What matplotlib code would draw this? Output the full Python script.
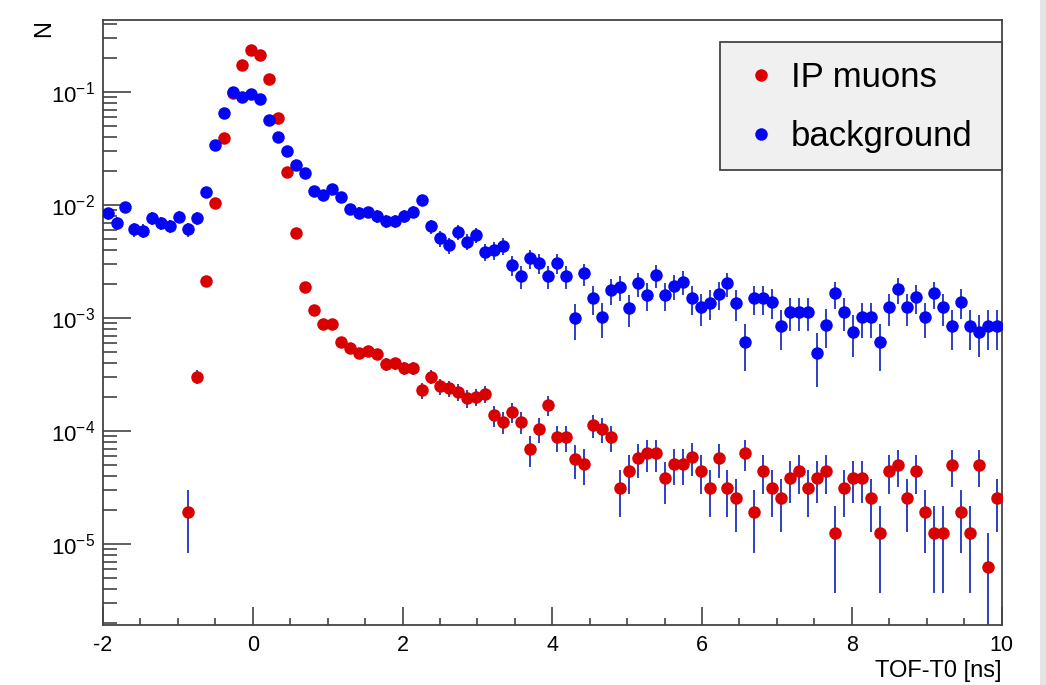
import numpy as np
import matplotlib
matplotlib.use('Agg')
import matplotlib.pyplot as plt
from matplotlib.patches import Rectangle
from matplotlib.ticker import MultipleLocator, LogLocator, NullFormatter

# histogram binning: 100 bins of 0.12 ns between -2 and 10 ns
tof_edges = np.linspace(-2.0, 10.0, 101)
tof_centers = 0.5 * (tof_edges[:-1] + tof_edges[1:])

# normalised entries per bin
ip_muons = [
    np.nan, np.nan, np.nan, np.nan, np.nan, np.nan, np.nan, np.nan, np.nan, 1.93e-5,
    3.03e-4, 2.15e-3, 0.01039, 0.0391, 0.098, 0.1745, 0.237, 0.214, 0.130, 0.0596,
    0.0198, 0.00564, 0.00187, 0.00118, 0.000886, 0.000886, 0.000618, 0.000540, 0.000494, 0.000514,
    0.000481, 0.000392, 0.000398, 0.000359, 0.000359, 0.000231, 0.000304, 0.000249, 0.000239, 0.000223,
    0.000195, 0.000201, 0.000213, 0.000139, 0.000121, 0.000148, 0.000121, 6.89e-5, 0.000104, 0.000170,
    8.85e-5, 8.85e-5, 5.61e-5, 5.10e-5, 0.000113, 0.000104, 8.85e-5, 3.16e-5, 4.43e-5, 5.75e-5,
    6.35e-5, 6.35e-5, 3.81e-5, 5.10e-5, 5.10e-5, 5.92e-5, 4.43e-5, 3.16e-5, 5.75e-5, 3.16e-5,
    2.54e-5, 6.4e-5, 1.93e-5, 4.43e-5, 3.16e-5, 2.54e-5, 3.87e-5, 4.43e-5, 3.16e-5, 3.87e-5,
    4.43e-5, 1.26e-5, 3.16e-5, 3.87e-5, 3.87e-5, 2.54e-5, 1.26e-5, 4.43e-5, 4.97e-5, 2.54e-5,
    4.43e-5, 1.93e-5, 1.26e-5, 1.26e-5, 4.97e-5, 1.93e-5, 1.26e-5, 4.97e-5, 6.3e-6, 2.54e-5,
]
background = [
    0.00848, 0.00700, 0.00970, 0.00612, 0.00594, 0.00766, 0.00691, 0.00658, 0.00791, 0.00615,
    0.00766, 0.01317, 0.0341, 0.0660, 0.100, 0.0914, 0.0960, 0.0867, 0.0568, 0.0399,
    0.0302, 0.0227, 0.01917, 0.01343, 0.01231, 0.01383, 0.01189, 0.00920, 0.00858, 0.00871,
    0.00802, 0.00729, 0.00729, 0.00802, 0.00876, 0.01112, 0.0065, 0.00509, 0.00444, 0.00582,
    0.00475, 0.00545, 0.00387, 0.00401, 0.00435, 0.00295, 0.00236, 0.00339, 0.00306, 0.00236,
    0.00306, 0.00236, 0.000996, 0.00249, 0.00150, 0.00102, 0.00177, 0.00190, 0.00122, 0.00203,
    0.00160, 0.00241, 0.00160, 0.00193, 0.00210, 0.00150, 0.00125, 0.00137, 0.00164, 0.00203,
    0.00136, 0.000614, 0.00150, 0.00150, 0.00140, 0.000851, 0.00114, 0.00114, 0.00114, 0.000494,
    0.000869, 0.00166, 0.00114, 0.000758, 0.00102, 0.00102, 0.000618, 0.00125, 0.00180, 0.00125,
    0.00153, 0.00102, 0.00166, 0.00125, 0.000851, 0.00140, 0.000851, 0.000758, 0.000851, 0.000851,
]
# weight of a single entry (normalisation), for the poisson error bars
ip_muons_weight = 6.3e-6
background_weight = 1.23e-4

plt.rcParams['font.family'] = ['Liberation Sans', 'DejaVu Sans']
plt.rcParams['mathtext.fontset'] = 'custom'
plt.rcParams['mathtext.rm'] = 'Liberation Sans'
plt.rcParams['mathtext.it'] = 'Liberation Sans'
plt.rcParams['axes.unicode_minus'] = False

fig = plt.figure(figsize=(10.46, 6.85), dpi=100)
ax = fig.add_axes([0.0985, 0.0876, 0.8590, 0.8832])

err_color = '#2f40c0'
series = [
    (ip_muons, ip_muons_weight, '#d80000', 'IP muons'),
    (background, background_weight, '#0505f5', 'background'),
]
z = 2
for values, weight, color, label in series:
    vals = np.array(values, dtype=float)
    err = np.sqrt(vals * weight)
    ax.errorbar(tof_centers, vals, yerr=err, fmt='none', ecolor=err_color,
                elinewidth=1.4, capsize=0, zorder=z)
    ax.plot(tof_centers, vals, 'o', color=color, markersize=9, mec=color,
            mew=0, label=label, zorder=z + 1)
    z += 2

ax.set_yscale('log', nonpositive='clip')
ax.set_xlim(-2, 10)
ax.set_ylim(1.92e-6, 0.437)

ax.xaxis.set_major_locator(MultipleLocator(2))
ax.xaxis.set_minor_locator(MultipleLocator(0.5))
ax.yaxis.set_major_locator(LogLocator(base=10, numticks=20))
ax.yaxis.set_minor_locator(LogLocator(base=10, subs=np.arange(2, 10) * 1.0, numticks=20))
ax.yaxis.set_minor_formatter(NullFormatter())

ax.tick_params(axis='x', which='major', direction='in', length=13, width=1.1,
               color='#333333', pad=7, labelsize=15.5, top=False)
ax.tick_params(axis='x', which='minor', direction='in', length=5, width=1.1,
               color='#333333', top=False)
ax.tick_params(axis='y', which='major', direction='in', length=20, width=1.1,
               color='#333333', pad=6, labelsize=16, right=False)
ax.tick_params(axis='y', which='minor', direction='in', length=10, width=1.1,
               color='#333333', right=False)
for sp in ax.spines.values():
    sp.set_color('#444444')
    sp.set_linewidth(1.3)

ax.set_xlabel('TOF-T0 [ns]', loc='right', fontsize=17, labelpad=3)
ax.set_ylabel('N', loc='top', fontsize=17, labelpad=-3)

# legend box (grey pave like ROOT TLegend)
box = Rectangle((720 / 1046, 1 - 170 / 685), 282 / 1046, 128 / 685,
                transform=fig.transFigure, facecolor='#f0f0f0',
                edgecolor='#444444', linewidth=1.3, zorder=6, clip_on=False)
ax.add_patch(box)
leg = ax.legend(loc='center', bbox_to_anchor=(860 / 1046, 1 - 107 / 685),
                bbox_transform=fig.transFigure, frameon=False, fontsize=25,
                handlelength=0.8, handletextpad=0.45, labelspacing=0.75,
                borderpad=0)
leg.set_zorder(7)

# grey shadow strip at the right edge of the screenshot
fig.patches.append(Rectangle((1040 / 1046, 0), 6 / 1046, 1, transform=fig.transFigure,
                             facecolor='#e4e4e4', edgecolor='none', zorder=-1))

fig.savefig('out.png', dpi=100)
